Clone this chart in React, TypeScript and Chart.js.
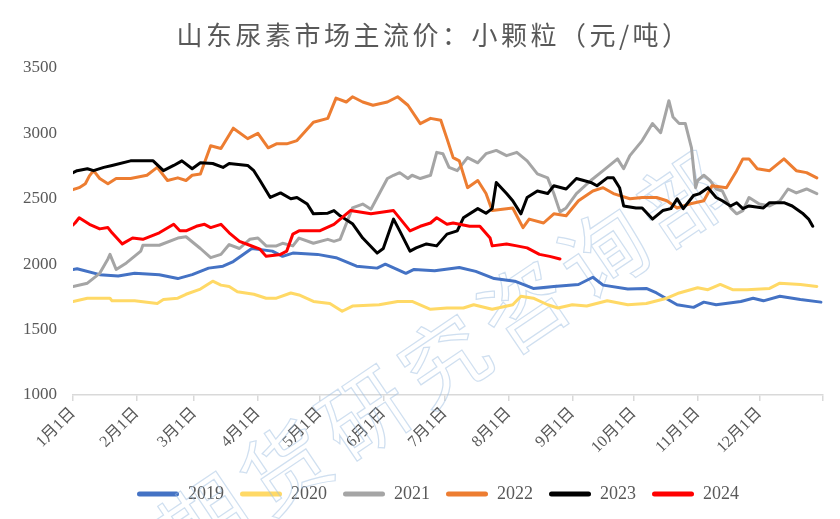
import React, { useEffect, useRef } from 'react';
import { Chart, registerables } from 'chart.js';

Chart.register(...registerables);

const TITLE = '山东尿素市场主流价：小颗粒（元/吨）';
const WATERMARK = '期货研究咨询部';

const monthLabels = ['1月1日', '2月1日', '3月1日', '4月1日', '5月1日', '6月1日', '7月1日', '8月1日', '9月1日', '10月1日', '11月1日', '12月1日'];
const monthStartDays = [0, 31, 59, 90, 120, 151, 181, 212, 243, 273, 304, 334, 365];
const yTicks = [1000, 1500, 2000, 2500, 3000, 3500];

const seriesNames = ['2019', '2020', '2021', '2022', '2023', '2024'];
const seriesColors = ['#4472C4', '#FFD966', '#A5A5A5', '#ED7D31', '#000000', '#FF0000'];

// day of year (0 = 1月1日) and price
const days2019 = [0, 2, 13, 22, 30, 42, 51, 58, 66, 73, 78, 87, 97, 102, 107, 119, 128, 138, 148, 152, 162, 166, 176, 188, 196, 205, 215, 224, 234, 246, 253, 258, 270, 279, 284, 294, 302, 307, 313, 325, 331, 336, 344, 354, 364];
const vals2019 = [1960, 1965, 1920, 1910, 1930, 1920, 1890, 1920, 1970, 1985, 2020, 2120, 2100, 2060, 2085, 2075, 2050, 1985, 1970, 2000, 1930, 1960, 1950, 1975, 1945, 1890, 1870, 1815, 1830, 1845, 1900, 1840, 1810, 1815, 1780, 1690, 1670, 1710, 1690, 1715, 1740, 1720, 1755, 1730, 1710];

const days2020 = [0, 7, 18, 19, 30, 41, 44, 51, 55, 62, 68, 72, 76, 80, 88, 94, 99, 106, 110, 117, 125, 131, 136, 149, 158, 165, 174, 182, 190, 195, 204, 214, 218, 224, 231, 236, 243, 250, 260, 270, 279, 289, 295, 304, 309, 315, 321, 328, 339, 344, 354, 362];
const vals2020 = [1715, 1740, 1740, 1720, 1720, 1700, 1730, 1740, 1770, 1810, 1870, 1840, 1830, 1790, 1770, 1740, 1740, 1780, 1765, 1715, 1700, 1640, 1680, 1690, 1715, 1715, 1655, 1665, 1665, 1690, 1655, 1690, 1755, 1740, 1690, 1665, 1690, 1680, 1720, 1690, 1700, 1740, 1780, 1820, 1805, 1845, 1805, 1805, 1815, 1855, 1845, 1830];

const days2021 = [0, 7, 13, 17, 18, 21, 26, 33, 34, 42, 51, 55, 62, 67, 72, 76, 81, 86, 90, 94, 99, 102, 107, 110, 117, 124, 127, 130, 136, 141, 145, 153, 156, 159, 163, 165, 169, 174, 177, 180, 183, 187, 192, 197, 201, 206, 211, 216, 221, 226, 231, 234, 237, 240, 245, 252, 258, 265, 268, 271, 277, 282, 286, 290, 292, 295, 298, 301, 303, 304, 307, 310, 313, 316, 320, 323, 326, 329, 334, 339, 344, 348, 352, 357, 362];
const vals2021 = [1830, 1855, 1930, 2040, 2075, 1960, 2010, 2100, 2145, 2145, 2200, 2210, 2120, 2050, 2075, 2150, 2120, 2190, 2200, 2140, 2140, 2160, 2140, 2200, 2160, 2190, 2175, 2190, 2430, 2460, 2420, 2655, 2680, 2700, 2655, 2680, 2655, 2680, 2855, 2845, 2740, 2715, 2815, 2775, 2845, 2870, 2830, 2855, 2790, 2690, 2660, 2540, 2400, 2430, 2540, 2640, 2715, 2805, 2730, 2830, 2945, 3075, 3005, 3250, 3125, 3075, 3075, 2890, 2585, 2640, 2680, 2640, 2575, 2560, 2430, 2385, 2410, 2510, 2460, 2445, 2485, 2575, 2545, 2575, 2540];

const days2022 = [0, 3, 6, 8, 10, 13, 17, 21, 28, 36, 41, 46, 51, 55, 58, 62, 67, 72, 78, 85, 90, 95, 99, 104, 109, 117, 124, 128, 133, 136, 141, 146, 153, 158, 163, 169, 174, 179, 182, 185, 188, 192, 197, 201, 204, 214, 219, 222, 229, 234, 240, 246, 253, 258, 263, 271, 277, 284, 289, 294, 300, 307, 311, 318, 323, 326, 329, 333, 339, 346, 352, 357, 362];
const vals2022 = [2570, 2585, 2615, 2675, 2715, 2655, 2615, 2655, 2655, 2680, 2740, 2640, 2660, 2640, 2680, 2690, 2905, 2885, 3040, 2960, 3000, 2890, 2920, 2920, 2945, 3085, 3115, 3270, 3240, 3280, 3240, 3215, 3240, 3280, 3215, 3075, 3115, 3100, 2960, 2815, 2790, 2585, 2640, 2540, 2410, 2430, 2280, 2345, 2315, 2385, 2370, 2485, 2560, 2585, 2540, 2500, 2510, 2510, 2485, 2430, 2460, 2485, 2600, 2585, 2715, 2805, 2805, 2730, 2715, 2805, 2715, 2700, 2660];

const days2023 = [0, 2, 7, 10, 15, 19, 28, 39, 44, 49, 53, 58, 62, 68, 73, 76, 85, 88, 91, 96, 101, 106, 109, 114, 117, 124, 127, 130, 136, 141, 148, 151, 156, 159, 164, 167, 172, 177, 182, 187, 190, 197, 201, 204, 206, 211, 214, 218, 221, 226, 231, 234, 240, 245, 252, 255, 260, 263, 266, 268, 274, 277, 282, 287, 291, 294, 297, 302, 305, 309, 313, 316, 320, 323, 326, 329, 336, 339, 346, 350, 355, 358, 360];
const vals2023 = [2700, 2715, 2730, 2715, 2740, 2755, 2790, 2790, 2715, 2755, 2790, 2730, 2775, 2770, 2740, 2770, 2755, 2715, 2640, 2510, 2545, 2500, 2510, 2460, 2385, 2390, 2410, 2370, 2310, 2200, 2085, 2120, 2345, 2255, 2100, 2125, 2155, 2140, 2230, 2255, 2355, 2425, 2390, 2425, 2625, 2540, 2485, 2385, 2510, 2560, 2540, 2600, 2575, 2655, 2625, 2600, 2660, 2660, 2585, 2445, 2430, 2430, 2345, 2410, 2425, 2500, 2425, 2525, 2540, 2585, 2510, 2485, 2445, 2470, 2425, 2445, 2430, 2470, 2470, 2445, 2390, 2345, 2290];

const days2024 = [0, 1, 3, 8, 13, 17, 19, 24, 29, 34, 42, 49, 52, 55, 60, 64, 67, 72, 76, 81, 86, 91, 94, 101, 104, 107, 110, 115, 120, 127, 135, 145, 156, 164, 169, 174, 177, 182, 185, 193, 198, 203, 204, 211, 216, 221, 224, 227, 232, 237];
const vals2024 = [2300, 2315, 2355, 2305, 2270, 2280, 2240, 2155, 2200, 2190, 2240, 2305, 2255, 2255, 2290, 2305, 2280, 2305, 2240, 2175, 2145, 2115, 2060, 2075, 2100, 2230, 2255, 2255, 2255, 2305, 2410, 2385, 2410, 2255, 2290, 2315, 2355, 2305, 2315, 2290, 2290, 2200, 2140, 2155, 2140, 2125, 2100, 2075, 2060, 2040];

const seriesDays = [days2019, days2020, days2021, days2022, days2023, days2024];
const seriesVals = [vals2019, vals2020, vals2021, vals2022, vals2023, vals2024];

const TEXT_COLOR = '#595959';
const SERIF = '"Liberation Serif", "Noto Sans CJK SC", serif';

const watermarkPlugin = {
  id: 'watermark',
  beforeDatasetsDraw(chart: any) {
    const ctx = chart.ctx;
    ctx.save();
    ctx.translate(448, 357);
    ctx.rotate((-34 * Math.PI) / 180);
    ctx.font = '86px "Noto Sans CJK SC"';
    ctx.strokeStyle = 'rgba(160,192,225,0.5)';
    ctx.lineWidth = 1.2;
    ctx.textAlign = 'center';
    ctx.textBaseline = 'middle';
    (ctx as any).letterSpacing = '10px';
    ctx.strokeText(WATERMARK, 0, 0);
    ctx.restore();
  },
};

const titlePlugin = {
  id: 'customTitle',
  afterDraw(chart: any) {
    const ctx = chart.ctx;
    ctx.save();
    ctx.font = '26px "Noto Sans CJK SC"';
    (ctx as any).letterSpacing = '3.5px';
    ctx.fillStyle = TEXT_COLOR;
    ctx.textAlign = 'center';
    ctx.textBaseline = 'middle';
    ctx.fillText(TITLE, 434, 35);
    ctx.restore();
  },
};

const legendShiftPlugin = {
  id: 'legendShift',
  afterLayout(chart: any) {
    if (chart.legend) {
      chart.legend.left -= 10;
      chart.legend.right -= 10;
    }
  },
};

export default function App() {
  const ref = useRef<HTMLCanvasElement>(null);

  useEffect(() => {
    document.body.style.margin = '0';
    const datasets = seriesNames.map((name, i) => ({
      label: name,
      data: seriesDays[i].map((d, j) => ({ x: d, y: seriesVals[i][j] })),
      borderColor: seriesColors[i],
      backgroundColor: seriesColors[i],
      borderWidth: 3,
      pointRadius: 0,
      pointHoverRadius: 0,
      tension: 0,
      fill: false,
      borderJoinStyle: 'round' as const,
      borderCapStyle: 'round' as const,
      order: seriesNames.length - i,
    }));

    const chart = new Chart(ref.current as HTMLCanvasElement, {
      type: 'line',
      data: { datasets },
      options: {
        animation: false,
        responsive: true,
        maintainAspectRatio: false,
        layout: { padding: { top: 68, right: 17, bottom: 6, left: 0 } },
        plugins: {
          title: { display: false },
          tooltip: { enabled: false },
          legend: {
            display: true,
            position: 'bottom',
            fullSize: false,
            labels: {
              boxWidth: 42,
              boxHeight: 5,
              padding: 16,
              color: TEXT_COLOR,
              font: { family: SERIF, size: 18 },
              useBorderRadius: true,
              borderRadius: 2.5,
              generateLabels: (c: any) =>
                c.data.datasets.map((ds: any, i: number) => ({
                  text: ds.label,
                  fillStyle: ds.borderColor,
                  strokeStyle: ds.borderColor,
                  lineWidth: 0,
                  hidden: false,
                  datasetIndex: i,
                  fontColor: TEXT_COLOR,
                  borderRadius: 2.5,
                })),
            },
          },
        },
        scales: {
          x: {
            type: 'linear',
            min: 0,
            max: 365,
            afterBuildTicks: (s: any) => {
              s.ticks = monthStartDays.map((v) => ({ value: v }));
            },
            afterFit: (s: any) => {
              s.height = 74;
            },
            ticks: {
              autoSkip: false,
              maxRotation: 45,
              minRotation: 45,
              padding: 3,
              color: TEXT_COLOR,
              font: { family: SERIF, size: 16 },
              callback: (_v: any, i: number) => monthLabels[i] ?? '',
            },
            grid: { drawOnChartArea: false, drawTicks: true, tickLength: 6, color: '#D9D9D9', lineWidth: 1.5 },
            border: { display: true, color: '#D9D9D9', width: 1.5 },
          },
          y: {
            type: 'linear',
            min: 1000,
            max: 3500,
            afterBuildTicks: (s: any) => {
              s.ticks = yTicks.map((v) => ({ value: v }));
            },
            afterFit: (s: any) => {
              s.width = 73;
            },
            ticks: {
              padding: 16,
              color: TEXT_COLOR,
              font: { family: SERIF, size: 17 },
              callback: (v: any) => String(v),
            },
            grid: { display: false, drawTicks: false },
            border: { display: false },
          },
        },
      },
      plugins: [watermarkPlugin, titlePlugin, legendShiftPlugin],
    });
    return () => chart.destroy();
  }, []);

  return (
    <div style={{ width: 840, height: 519, position: 'relative' }}>
      <canvas ref={ref} />
    </div>
  );
}
